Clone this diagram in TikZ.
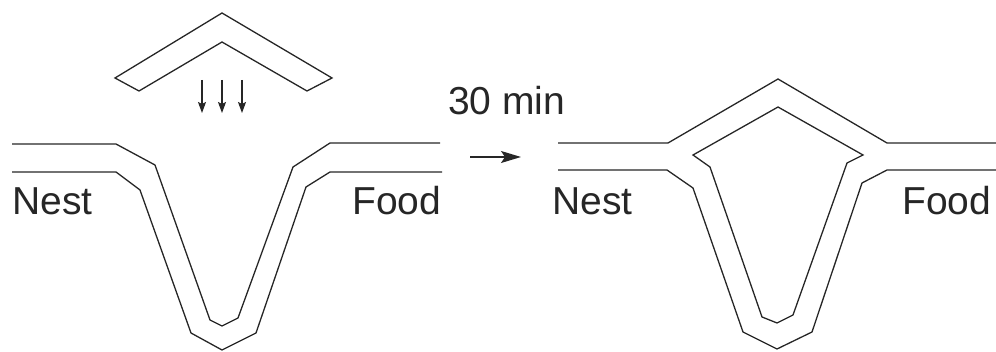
\documentclass[tikz,border=0pt]{standalone}
\usepackage{fontspec}
\setmainfont{Liberation Sans}
\usetikzlibrary{arrows.meta}
\begin{document}
\begin{tikzpicture}[x=1pt,y=-1pt,
  wall/.style={line width=1.3pt, line join=miter, color=black!85},
  lbl/.style={anchor=base west, inner sep=0pt, font=\fontsize{39}{39}\selectfont, text=black!85},
  drop/.style={line width=1.1pt, -{Stealth[length=11pt,width=8pt,inset=2pt]}, color=black!85},
  timearrow/.style={line width=1.3pt, -{Stealth[length=20pt,width=12pt,inset=4pt]}, color=black!85}]
\useasboundingbox (0,0) rectangle (996,352);
% ---------- left panel: trail ----------
\draw[wall] (12,144) -- (116,144) -- (155,165) -- (210,320) -- (222,326) -- (238,318) -- (293,167) -- (330,143) -- (440,143);
\draw[wall] (12,172) -- (116,172) -- (140,190) -- (191,333) -- (222,350) -- (256,333) -- (306,187) -- (330,172) -- (442,172);
% shelter (chevron)
\draw[wall] (222,13) -- (332,78) -- (307,91) -- (222,42) -- (139,91) -- (115,78) -- cycle;
% arrows
\coordinate (a1s) at (202,80); \coordinate (a1e) at (202,113);
\coordinate (a2s) at (222,80); \coordinate (a2e) at (222,113);
\coordinate (a3s) at (242,80); \coordinate (a3e) at (242,113);
\draw[drop] (a1s) -- (a1e);
\draw[drop] (a2s) -- (a2e);
\draw[drop] (a3s) -- (a3e);
\node[lbl] (nest1) at (12,215) {Nest};
\node[lbl] (food1) at (352,215) {Food};
% ---------- time arrow ----------
\node[lbl] (time) at (448,115) {30 min};
\coordinate (ts) at (470,157);
\coordinate (te) at (521,157);
\draw[timearrow] (ts) -- (te);
% ---------- right panel ----------
\draw[wall] (558,143) -- (668,143) -- (778,79) -- (887,143) -- (996,143);
\draw[wall] (558,170) -- (667,170) -- (693,188) -- (743,332) -- (777,349) -- (812,332) -- (862,183) -- (887,170) -- (996,170);
\draw[wall] (778,107) -- (863,155) -- (847,163) -- (793,315) -- (777,323) -- (762,317) -- (710,167) -- (693,155) -- cycle;
\node[lbl] (nest2) at (552,215) {Nest};
\node[lbl] (food2) at (902,215) {Food};
\end{tikzpicture}
\end{document}
